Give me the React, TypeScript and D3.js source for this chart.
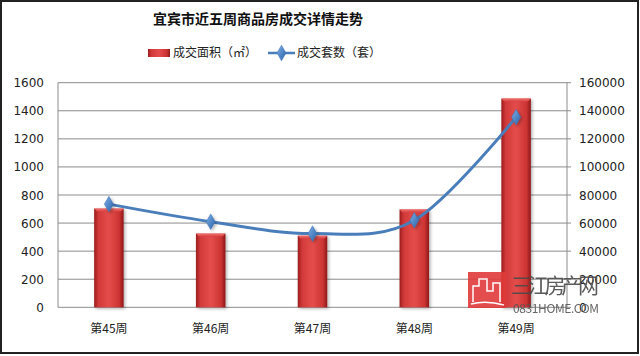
import React from "react";
import * as d3 from "d3";

const categories = ["第45周", "第46周", "第47周", "第48周", "第49周"];
const areaValues = [703, 525, 510, 697, 1487];
const countValues = [73500, 61000, 52500, 62000, 135500];
const leftTicks = [0, 200, 400, 600, 800, 1000, 1200, 1400, 1600];
const rightTicks = [0, 20000, 40000, 60000, 80000, 100000, 120000, 140000, 160000];
const title = "宜宾市近五周商品房成交详情走势";
const seriesNames = ["成交面积（㎡）", "成交套数（套）"];

const W = 640;
const H = 356;
const plot = { left: 58, right: 567, top: 82.7, bottom: 307.3 };
const font = "'Noto Sans CJK SC', 'DejaVu Sans', sans-serif";
const numFont = "Verdana, 'DejaVu Sans', sans-serif";

export default function App() {
  const x = d3.scaleBand<string>().domain(categories).range([plot.left, plot.right]).paddingInner(0.71).paddingOuter(0.355);
  const yL = d3.scaleLinear().domain([0, 1600]).range([plot.bottom, plot.top]);
  const yR = d3.scaleLinear().domain([0, 160000]).range([plot.bottom, plot.top]);
  const cx = (c: string) => (x(c) as number) + x.bandwidth() / 2;
  const line = d3
    .line<number>()
    .x((_, i) => cx(categories[i]))
    .y((d) => yR(d))
    .curve(d3.curveCardinal.tension(0));
  const diamond = d3.symbol().type(d3.symbolDiamond).size(70)();

  return (
    <svg width={W} height={H} style={{ position: "absolute", left: 0, top: 0 }}>
      <defs>
        <linearGradient id="barG" x1="0" x2="1" y1="0" y2="0">
          <stop offset="0" stopColor="#9c1c1c" />
          <stop offset="0.15" stopColor="#d23a3a" />
          <stop offset="0.5" stopColor="#e44d4b" />
          <stop offset="0.85" stopColor="#cc3433" />
          <stop offset="1" stopColor="#8e1818" />
        </linearGradient>
        <linearGradient id="barTop" x1="0" x2="0" y1="0" y2="1">
          <stop offset="0" stopColor="#f07070" />
          <stop offset="1" stopColor="#d84040" />
        </linearGradient>
        <linearGradient id="diaG" x1="0" x2="1" y1="0" y2="1">
          <stop offset="0" stopColor="#7fb0e8" />
          <stop offset="1" stopColor="#2a62a8" />
        </linearGradient>
        <filter id="sh" x="-30%" y="-10%" width="160%" height="130%">
          <feDropShadow dx="1.5" dy="1.5" stdDeviation="1.5" floodColor="#000" floodOpacity="0.3" />
        </filter>
      </defs>
      <rect x={1} y={1} width={W - 3} height={H - 4} fill="#fff" stroke="#222" strokeWidth={2} />
      <text x={258} y={24} textAnchor="middle" fontFamily={font} fontSize={14} fontWeight="bold" fill="#111">
        {title}
      </text>
      {/* legend */}
      <rect x={148} y={49} width={22} height={8} fill="url(#barG)" />
      <text x={173} y={57} fontFamily={font} fontSize={12} fill="#222">{seriesNames[0]}</text>
      <line x1={268} x2={295} y1={53} y2={53} stroke="#4a7ebb" strokeWidth={2.5} />
      <path d={diamond} transform="translate(281.5,53)" fill="url(#diaG)" stroke="#3a6eb0" strokeWidth={0.5} />
      <text x={297} y={57} fontFamily={font} fontSize={12} fill="#222">{seriesNames[1]}</text>
      {/* gridlines */}
      {leftTicks.map((t) => (
        <line key={t} x1={plot.left} x2={plot.right} y1={yL(t)} y2={yL(t)} stroke="#8c8c8c" strokeWidth={1} />
      ))}
      <line x1={plot.left} x2={plot.left} y1={plot.top} y2={plot.bottom} stroke="#8c8c8c" />
      <line x1={plot.right} x2={plot.right} y1={plot.top} y2={plot.bottom} stroke="#8c8c8c" />
      {rightTicks.map((t) => (
        <line key={"r" + t} x1={plot.right} x2={plot.right + 4} y1={yR(t)} y2={yR(t)} stroke="#8c8c8c" />
      ))}
      {leftTicks.map((t) => (
        <text key={"l" + t} x={44} y={yL(t) + 4.5} textAnchor="end" fontFamily={numFont} fontSize={12} fill="#222">
          {t}
        </text>
      ))}
      {rightTicks.map((t) => (
        <text key={"rt" + t} x={579} y={yR(t) + 4.5} textAnchor="start" fontFamily={numFont} fontSize={12} fill="#222">
          {t}
        </text>
      ))}
      {/* bars */}
      {categories.map((c, i) => {
        const bx = x(c) as number;
        const bw = x.bandwidth();
        const top = yL(areaValues[i]);
        return (
          <g key={c} filter="url(#sh)">
            <rect x={bx} y={top} width={bw} height={plot.bottom - top} fill="url(#barG)" />
            <path d={`M${bx},${top}L${bx + bw},${top}L${bx + bw - 3},${top + 3}L${bx + 3},${top + 3}Z`} fill="url(#barTop)" />
          </g>
        );
      })}
      {/* line */}
      <path d={line(countValues) || ""} fill="none" stroke="#4a7ebb" strokeWidth={3} strokeLinecap="round" />
      {countValues.map((v, i) => (
        <path key={i} d={diamond} transform={`translate(${cx(categories[i])},${yR(v)})`} fill="url(#diaG)" stroke="#3a6eb0" strokeWidth={0.5} filter="url(#sh)" />
      ))}
      {/* category labels */}
      {categories.map((c) => (
        <text key={"c" + c} x={cx(c)} y={333} textAnchor="middle" fontFamily={font} fontSize={12} fill="#222">
          {c}
        </text>
      ))}
      {/* watermark */}
      <g opacity={0.9}>
        <rect x={468} y={272} width={38} height={36} fill="#e03a3a" />
        <path d="M473,302 L473,286 L479,286 L479,279 L487,279 L487,291 L493,291 L493,283 L500,283 L500,302 M471,304 Q486,300 504,305" fill="none" stroke="#fff" strokeWidth={1.5} />
        <text x={511} y={293} fontFamily={font} fontSize={21} fill="#4a4a4a" textLength={88}>三江房产网</text>
        <text x={513} y={313} fontFamily={font} fontSize={12} fill="#555" textLength={86}>0831HOME.COM</text>
      </g>
    </svg>
  );
}
